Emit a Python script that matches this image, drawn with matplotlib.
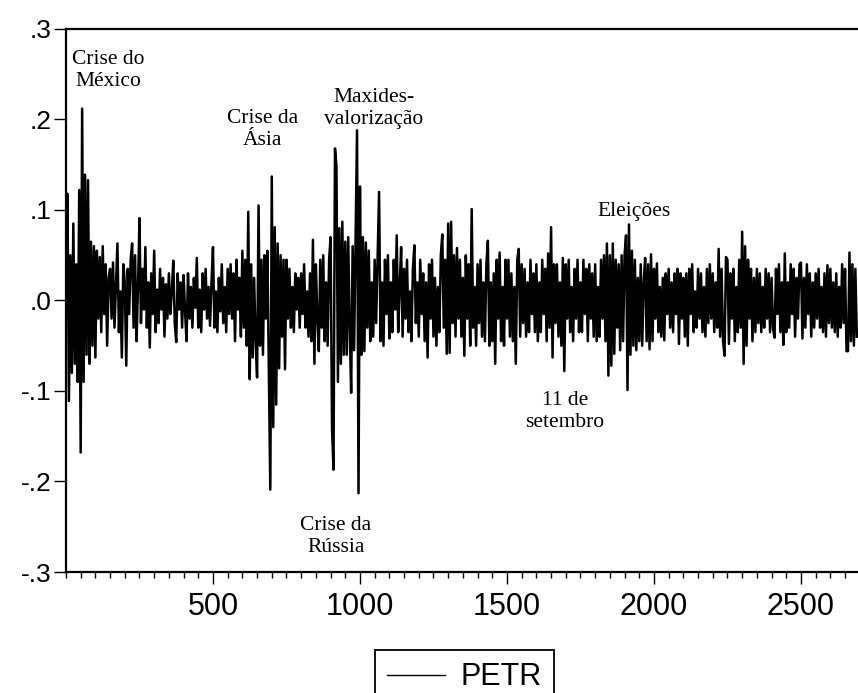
#####################################
# Retornos diarios PETR com eventos #
#####################################

import numpy as np
import matplotlib
matplotlib.use('Agg')
import matplotlib.pyplot as plt
import matplotlib.ticker as ticker


# -----------------------------------------
# Dados: retornos lidos a cada 5 observacoes
# -----------------------------------------
step = 5

petr = [
  0.02, 0.118, -0.111, 0.05, -0.08, 0.085, -0.07, 0.04, -0.09, 0.122,
  -0.168, 0.212, -0.09, 0.139, -0.06, 0.133, -0.07, 0.065, -0.05, 0.06,
  -0.063, 0.055, -0.02, 0.048, -0.035, 0.06, -0.015, 0.04, -0.05, 0.025,
  0.035, -0.02, 0.042, -0.03, 0.015, 0.063, -0.035, 0.01, -0.063, 0.04,
  0.02, -0.072, 0.035, -0.015, 0.045, 0.063, -0.03, 0.05, -0.045, 0.015,
  0.091, -0.025, 0.035, -0.01, 0.059, -0.03, 0.02, -0.052, 0.03, -0.015,
  0.055, -0.035, 0.012, -0.025, 0.035, -0.01, 0.025, -0.04, 0.018, -0.02,
  0.03, -0.015, 0.01, 0.044, -0.025, -0.046, 0.03, -0.01, 0.02, -0.03,
  0.028, -0.012, -0.045, 0.03, -0.02, 0.015, -0.03, 0.025, -0.008, 0.047,
  -0.03, 0.012, -0.035, 0.03, -0.01, 0.035, -0.02, 0.015, -0.028, 0.02,
  0.059, -0.03, 0.01, -0.035, 0.025, -0.012, 0.04, -0.025, 0.015, -0.035,
  0.035, -0.015, 0.04, -0.02, 0.03, -0.045, 0.045, -0.01, 0.025, -0.04,
  0.055, -0.03, 0.045, -0.05, 0.098, -0.087, 0.04, -0.063, 0.025, -0.045,
  -0.085, 0.105, -0.05, 0.045, -0.06, 0.05, -0.02, 0.055, -0.075, -0.209,
  0.137, -0.14, 0.081, -0.115, 0.063, -0.075, 0.05, -0.04, 0.045, -0.076,
  0.045, -0.02, 0.035, -0.03, 0.015, -0.035, 0.03, -0.01, 0.025, -0.03,
  0.03, -0.015, 0.04, -0.03, 0.01, -0.04, 0.03, -0.045, 0.067, -0.07,
  0.04, -0.02, -0.056, 0.045, -0.03, 0.05, -0.045, 0.02, -0.05, 0.045,
  0.07, -0.142, -0.187, 0.168, 0.148, -0.09, 0.08, -0.07, 0.087, -0.06,
  0.065, -0.06, 0.07, -0.03, -0.102, 0.06, -0.055, 0.065, 0.188, -0.213,
  0.126, -0.06, 0.07, -0.056, 0.064, -0.03, 0.055, -0.045, 0.02, -0.04,
  0.045, -0.025, 0.05, 0.12, -0.045, 0.02, -0.05, 0.045, -0.015, 0.05,
  -0.042, 0.02, -0.035, 0.045, -0.01, 0.072, -0.035, 0.015, 0.059, -0.04,
  0.035, -0.02, 0.045, -0.035, 0.01, -0.045, 0.035, 0.061, -0.025, 0.02,
  -0.04, 0.045, -0.015, 0.03, -0.045, 0.02, -0.063, 0.04, -0.02, 0.045,
  -0.04, 0.025, -0.05, 0.015, -0.035, 0.05, 0.073, -0.03, 0.045, -0.059,
  0.085, -0.058, 0.087, -0.025, 0.05, -0.04, 0.058, -0.02, 0.045, -0.04,
  0.025, -0.061, 0.05, -0.02, 0.04, -0.05, 0.101, -0.03, 0.015, -0.05,
  0.04, -0.025, 0.045, -0.04, 0.02, -0.045, 0.04, 0.066, -0.05, 0.02,
  -0.045, 0.03, -0.07, 0.045, -0.02, 0.053, -0.045, 0.015, -0.05, 0.045,
  -0.02, 0.045, -0.04, 0.03, -0.045, 0.015, -0.07, 0.045, 0.057, -0.04,
  0.04, -0.025, 0.035, -0.04, 0.02, -0.035, 0.045, -0.015, 0.03, -0.035,
  0.04, -0.045, 0.02, -0.035, 0.045, -0.015, 0.035, -0.045, 0.052, -0.03,
  0.081, -0.063, 0.04, -0.025, 0.04, -0.04, 0.02, -0.05, 0.047, -0.078,
  0.04, -0.02, 0.045, -0.035, 0.015, -0.045, 0.035, -0.02, 0.045, -0.035,
  0.02, -0.035, 0.045, -0.015, 0.035, -0.045, 0.04, -0.02, 0.03, -0.04,
  0.04, -0.045, 0.015, -0.04, 0.045, -0.02, 0.05, -0.045, 0.063, -0.083,
  0.05, -0.072, 0.063, -0.059, 0.045, -0.03, 0.04, -0.055, 0.05, -0.045,
  0.05, 0.072, -0.099, 0.084, -0.06, 0.055, -0.05, 0.045, -0.055, 0.025,
  -0.045, 0.04, -0.05, 0.02, 0.047, -0.045, 0.04, -0.054, 0.051, -0.045,
  0.035, -0.02, 0.041, -0.035, 0.015, -0.04, 0.025, -0.044, 0.03, -0.015,
  0.035, -0.03, 0.02, -0.035, 0.03, -0.015, 0.035, -0.048, 0.03, -0.02,
  0.025, -0.04, 0.03, -0.05, 0.035, -0.015, 0.04, -0.035, 0.01, -0.03,
  0.035, -0.02, 0.03, -0.035, 0.015, -0.04, 0.035, -0.025, 0.04, -0.02,
  0.03, -0.035, 0.02, -0.03, 0.057, -0.04, 0.035, -0.045, -0.061, 0.048,
  0.045, -0.048, 0.03, -0.02, 0.035, -0.045, 0.015, -0.035, 0.045, -0.03,
  0.076, -0.07, 0.06, -0.05, 0.045, -0.02, 0.035, -0.045, 0.025, -0.035,
  0.035, -0.025, 0.03, -0.035, 0.015, -0.03, 0.035, -0.02, 0.03, -0.035,
  0.025, -0.03, -0.041, 0.035, -0.015, 0.04, -0.035, 0.02, -0.049, 0.052,
  -0.035, 0.02, -0.03, 0.04, -0.015, 0.035, -0.04, 0.025, -0.02, 0.04,
  0.042, -0.042, 0.025, -0.03, 0.04, -0.015, 0.03, -0.04, 0.02, -0.03,
  0.03, -0.02, 0.035, -0.03, 0.015, -0.035, 0.03, -0.04, 0.039, -0.025,
  0.035, -0.03, 0.02, -0.035, 0.03, -0.04, 0.015, -0.03, 0.04, -0.025,
  0.035, -0.056, -0.056, 0.053, -0.045, 0.04, -0.05, 0.035, -0.04,
]

obs = np.arange(len(petr)) * step

yticks = [0.3, 0.2, 0.1, 0.0, -0.1, -0.2, -0.3]
ylabels = ['.3', '.2', '.1', '.0', '-.1', '-.2', '-.3']
xticks = [500, 1000, 1500, 2000, 2500]

# eventos: texto, posicao (obs, retorno)
ev_text = ['Crise do\nMéxico', 'Crise da\nÁsia', 'Maxides-\nvalorização',
           'Crise da\nRússia', '11 de\nsetembro', 'Eleições']
ev_x = [143, 667, 1048, 918, 1697, 1932]
ev_y = [0.254, 0.189, 0.212, -0.261, -0.123, 0.098]


# -----
# Plot
# -----
fig = plt.figure(figsize=(8.58, 6.93), dpi=100)
ax = fig.add_axes([0.0769, 0.1746, 0.9231, 0.7836])

ax.plot(obs, petr, c='k', lw=1.8, label='PETR')

ax.set_xlim(0, 2694)
ax.set_ylim(-0.3, 0.3)

# spines
for s in ['left', 'top', 'bottom']:
  ax.spines[s].set_linewidth(1.6)
ax.spines['right'].set_visible(False)

# ticks
ax.set_yticks(yticks)
ax.set_yticklabels(ylabels, family='Liberation Sans', fontsize=19)
ax.set_xticks(xticks)
ax.set_xticklabels([str(x) for x in xticks], family='Liberation Sans', fontsize=22)
ax.xaxis.set_minor_locator(ticker.MultipleLocator(50))
ax.tick_params(axis='y', direction='out', length=9, width=1, pad=1.5)
ax.tick_params(axis='x', which='major', direction='out', length=8.6, width=1, pad=6)
ax.tick_params(axis='x', which='minor', direction='out', length=4.3, width=1)

# eventos
for txt, xe, ye in zip(ev_text, ev_x, ev_y):
  ax.text(xe, ye, txt, ha='center', va='center', multialignment='center',
          family='Liberation Serif', fontsize=15.5, linespacing=1.2)

# legenda
leg = fig.legend(loc='upper left', bbox_to_anchor=(375/858, 1-650/693),
                 frameon=True, fancybox=False, edgecolor='k', framealpha=1,
                 prop={'family': 'Liberation Sans', 'size': 22},
                 handlelength=1.9, handletextpad=0.5, borderpad=0.4,
                 borderaxespad=0)
leg.get_frame().set_linewidth(1.3)
leg.get_lines()[0].set_linewidth(1.0)

fig.savefig('out.png', dpi=100)
plt.close()
